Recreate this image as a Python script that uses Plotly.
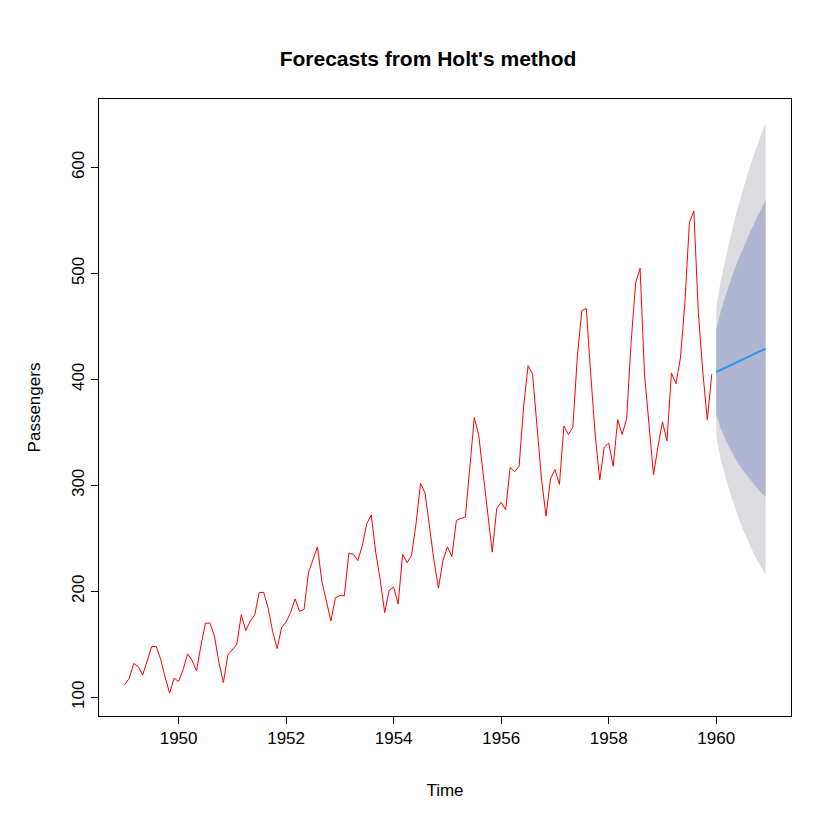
import plotly.graph_objects as go

# AirPassengers 1949-1959, monthly
years = list(range(1949, 1960))
passengers = [
    112, 118, 132, 129, 121, 135, 148, 148, 136, 119, 104, 118,
    115, 126, 141, 135, 125, 149, 170, 170, 158, 133, 114, 140,
    145, 150, 178, 163, 172, 178, 199, 199, 184, 162, 146, 166,
    171, 180, 193, 181, 183, 218, 230, 242, 209, 191, 172, 194,
    196, 196, 236, 235, 229, 243, 264, 272, 237, 211, 180, 201,
    204, 188, 235, 227, 234, 264, 302, 293, 259, 229, 203, 229,
    242, 233, 267, 269, 270, 315, 364, 347, 312, 274, 237, 278,
    284, 277, 317, 313, 318, 374, 413, 405, 355, 306, 271, 306,
    315, 301, 356, 348, 355, 422, 465, 467, 404, 347, 305, 336,
    340, 318, 362, 348, 363, 435, 491, 505, 404, 359, 310, 337,
    360, 342, 406, 396, 420, 472, 548, 559, 463, 407, 362, 405,
]
fc_mean = [407, 409, 411, 413, 415, 417, 419, 421, 423, 425, 427, 429]
lo80 = [367, 354, 344, 335, 327, 320, 314, 308, 303, 298, 293, 289]
hi80 = [447, 464, 478, 491, 503, 514, 524, 534, 543, 552, 561, 569]
lo95 = [346, 325, 309, 294, 281, 269, 258, 248, 239, 230, 223, 216]
hi95 = [468, 493, 513, 532, 549, 565, 580, 594, 607, 620, 631, 642]

t = [y + m / 12 for y in years for m in range(12)]
tf = [1960 + m / 12 for m in range(12)]

fig = go.Figure()
fig.add_trace(go.Scatter(x=tf + tf[::-1], y=hi95 + lo95[::-1], fill="toself",
                         fillcolor="#DBDBE0", line=dict(width=0), mode="lines"))
fig.add_trace(go.Scatter(x=tf + tf[::-1], y=hi80 + lo80[::-1], fill="toself",
                         fillcolor="#B0B5D1", line=dict(width=0), mode="lines"))
fig.add_trace(go.Scatter(x=t, y=passengers, mode="lines", line=dict(color="red", width=1)))
fig.add_trace(go.Scatter(x=tf, y=fc_mean, mode="lines", line=dict(color="#2A9BE8", width=2)))

axis = dict(showgrid=False, zeroline=False, showline=True, mirror=True, linecolor="black",
            linewidth=1, ticks="outside", ticklen=7, tickcolor="black",
            tickfont=dict(size=17, color="black"))
fig.update_layout(
    width=840, height=840, showlegend=False,
    paper_bgcolor="white", plot_bgcolor="white",
    margin=dict(l=91, r=57, t=91, b=132),
    font=dict(family="Liberation Sans, Arial", color="black"),
    title=dict(text="<b>Forecasts from Holt's method</b>", x=0.5, xanchor="center",
               y=0.94, yanchor="middle", font=dict(size=21)),
    xaxis=dict(axis, range=[1948.52, 1961.39], tickvals=list(range(1950, 1961, 2)),
               title=dict(text="Time", font=dict(size=17), standoff=36)),
    yaxis=dict(axis, range=[82.4, 664.6], tickvals=list(range(100, 601, 100)), tickangle=-90,
               title=dict(text="Passengers", font=dict(size=17), standoff=24)),
)
fig.write_html("out.html")
